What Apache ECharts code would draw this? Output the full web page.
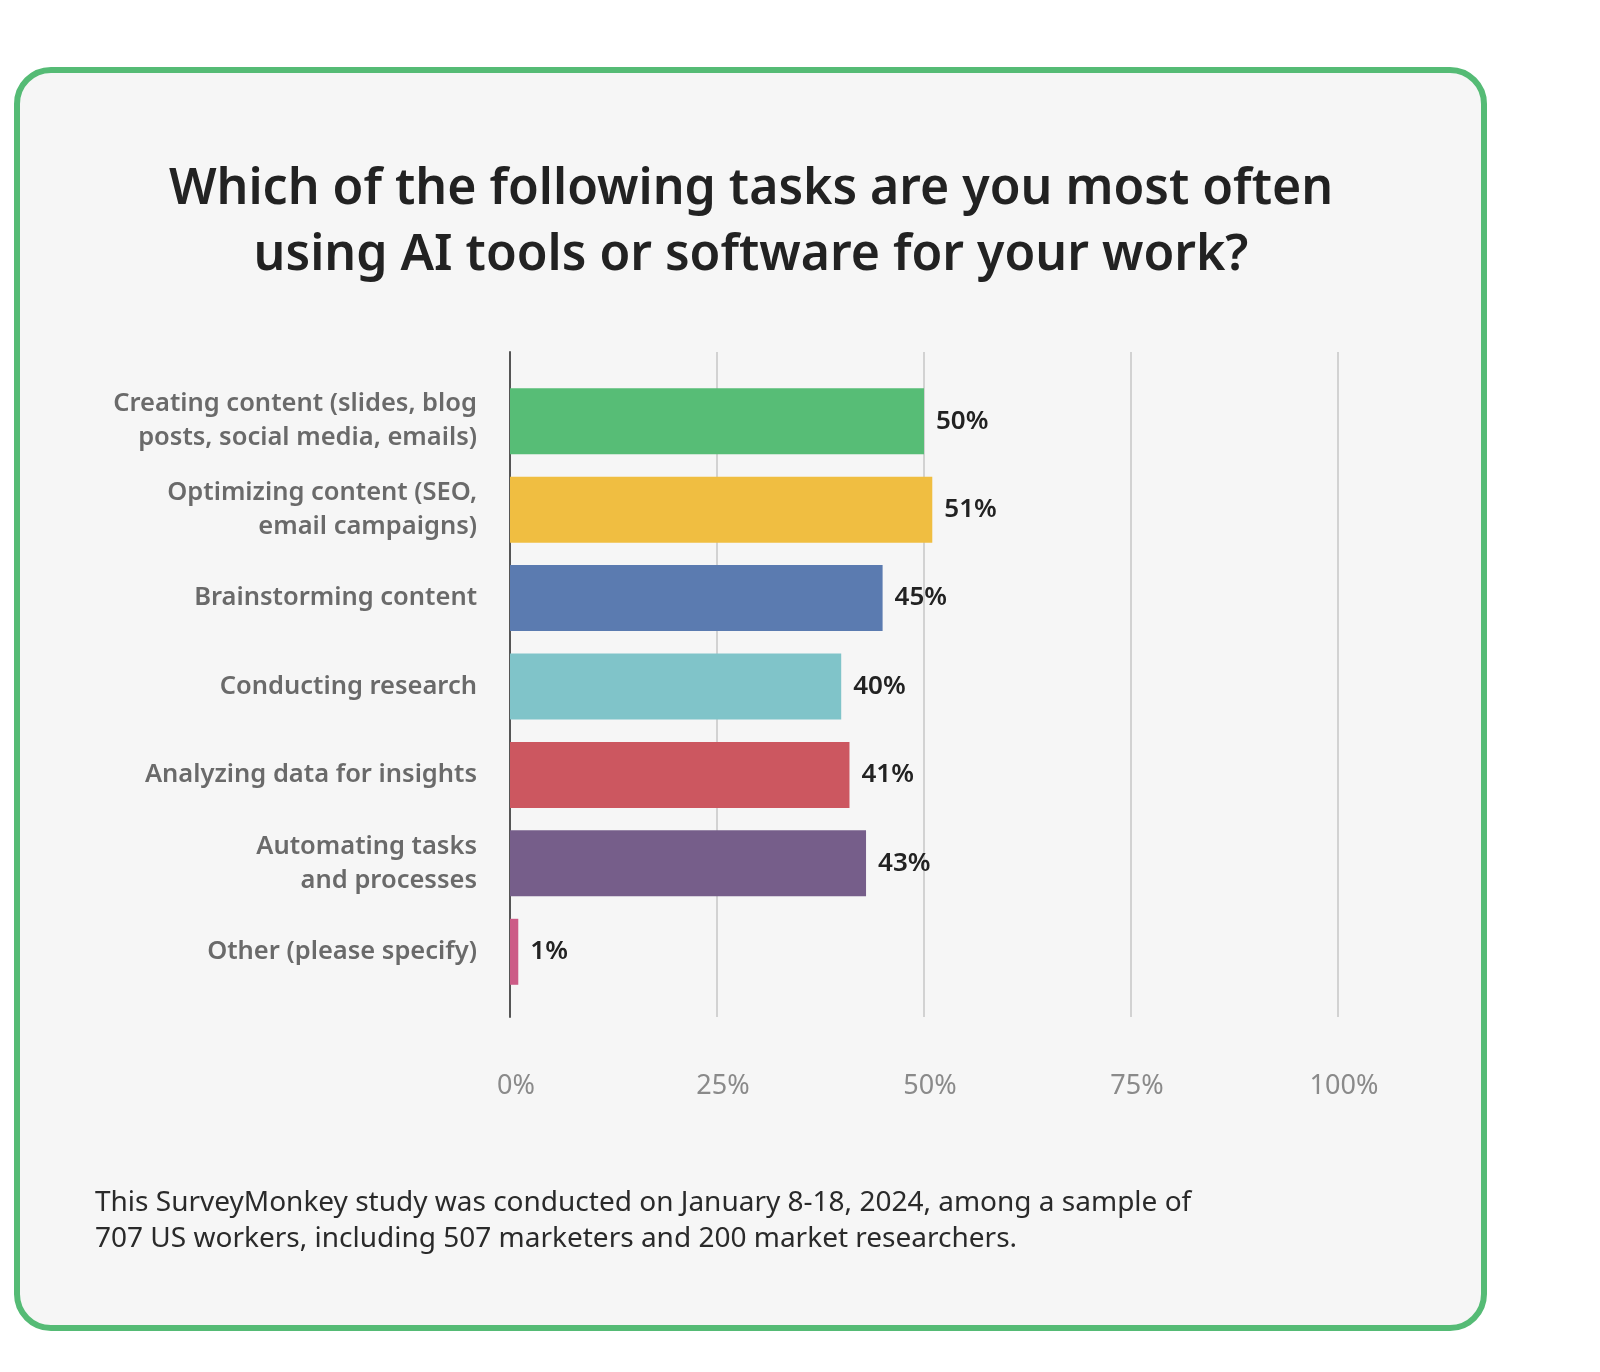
<!DOCTYPE html>
<html>
<head>
<meta charset="utf-8">
<script src="https://cdn.jsdelivr.net/npm/echarts@6/dist/echarts.min.js"></script>
<style>
  html, body { margin: 0; padding: 0; background: #ffffff; }
  #chart { width: 1600px; height: 1372px; }
</style>
</head>
<body>
<div id="chart"></div>
<script>
const titleText = 'Which of the following tasks are you most often\nusing AI tools or software for your work?';
const footnoteText = 'This SurveyMonkey study was conducted on January 8-18, 2024, among a sample of\n707 US workers, including 507 marketers and 200 market researchers.';
const categories = [
  'Creating content (slides, blog\nposts, social media, emails)',
  'Optimizing content (SEO,\nemail campaigns)',
  'Brainstorming content',
  'Conducting research',
  'Analyzing data for insights',
  'Automating tasks\nand processes',
  'Other (please specify)'
];
const values = [50, 51, 45, 40, 41, 43, 1];
const barColors = ['#57bd76', '#f0be41', '#5b7bb0', '#80c4c9', '#cc5760', '#765e8a', '#cc5b86'];
const xTicks = [0, 25, 50, 75, 100];

const FONT = '"Noto Sans", "Open Sans", sans-serif';
const chart = echarts.init(document.getElementById('chart'), null, { renderer: 'canvas' });

chart.setOption({
  backgroundColor: '#ffffff',
  animation: false,
  graphic: [{
    type: 'rect',
    z: -10,
    silent: true,
    shape: { x: 17, y: 70, width: 1467, height: 1258, r: 34 },
    style: { fill: '#f6f6f6', stroke: '#55bb75', lineWidth: 6 }
  }],
  title: [{
    text: titleText,
    left: 746,
    textAlign: 'center',
    top: 152,
    textStyle: { fontFamily: FONT, fontSize: 50, fontWeight: 600, color: '#222222', lineHeight: 66 }
  }, {
    text: footnoteText,
    left: 90,
    top: 1180,
    textStyle: { fontFamily: FONT, fontSize: 28, fontWeight: 'normal', color: '#2a2a2a', lineHeight: 36 }
  }],
  grid: [
    { left: 510, top: 352, width: 828, height: 665, containLabel: false },
    { left: 510, top: 377, width: 828, height: 619, containLabel: false }
  ],
  xAxis: [{
    gridIndex: 0,
    type: 'value',
    min: xTicks[0],
    max: xTicks[xTicks.length - 1],
    interval: 25,
    axisLine: { show: false },
    axisTick: { show: false },
    splitLine: { show: true, lineStyle: { color: '#d2d2d2', width: 2 } },
    axisLabel: {
      formatter: '{value}%',
      margin: 56,
      padding: [0, 0, 0, 12],
      fontFamily: FONT, fontSize: 27, color: '#8a8a8a'
    }
  }, {
    gridIndex: 1,
    type: 'value',
    min: 0,
    max: 100,
    show: false
  }],
  yAxis: [{
    gridIndex: 0,
    type: 'category',
    data: categories,
    inverse: true,
    axisLine: { show: true, onZero: false, lineStyle: { color: '#555555', width: 2 } },
    axisTick: { show: false },
    axisLabel: { show: false },
    splitLine: { show: false }
  }, {
    gridIndex: 1,
    type: 'category',
    data: categories,
    inverse: true,
    axisLine: { show: false },
    axisTick: { show: false },
    axisLabel: {
      margin: 33,
      align: 'right',
      fontFamily: FONT, fontSize: 25.5, fontWeight: 600, color: '#6a6a6a', lineHeight: 34
    }
  }],
  series: [{
    type: 'bar',
    xAxisIndex: 1,
    yAxisIndex: 1,
    data: values.map((v, i) => ({ value: v, itemStyle: { color: barColors[i] } })),
    barWidth: 66,
    label: {
      show: true,
      position: 'right',
      distance: 12,
      formatter: '{c}%',
      fontFamily: FONT, fontSize: 26, fontWeight: 600, color: '#222222'
    }
  }]
});
</script>
</body>
</html>
